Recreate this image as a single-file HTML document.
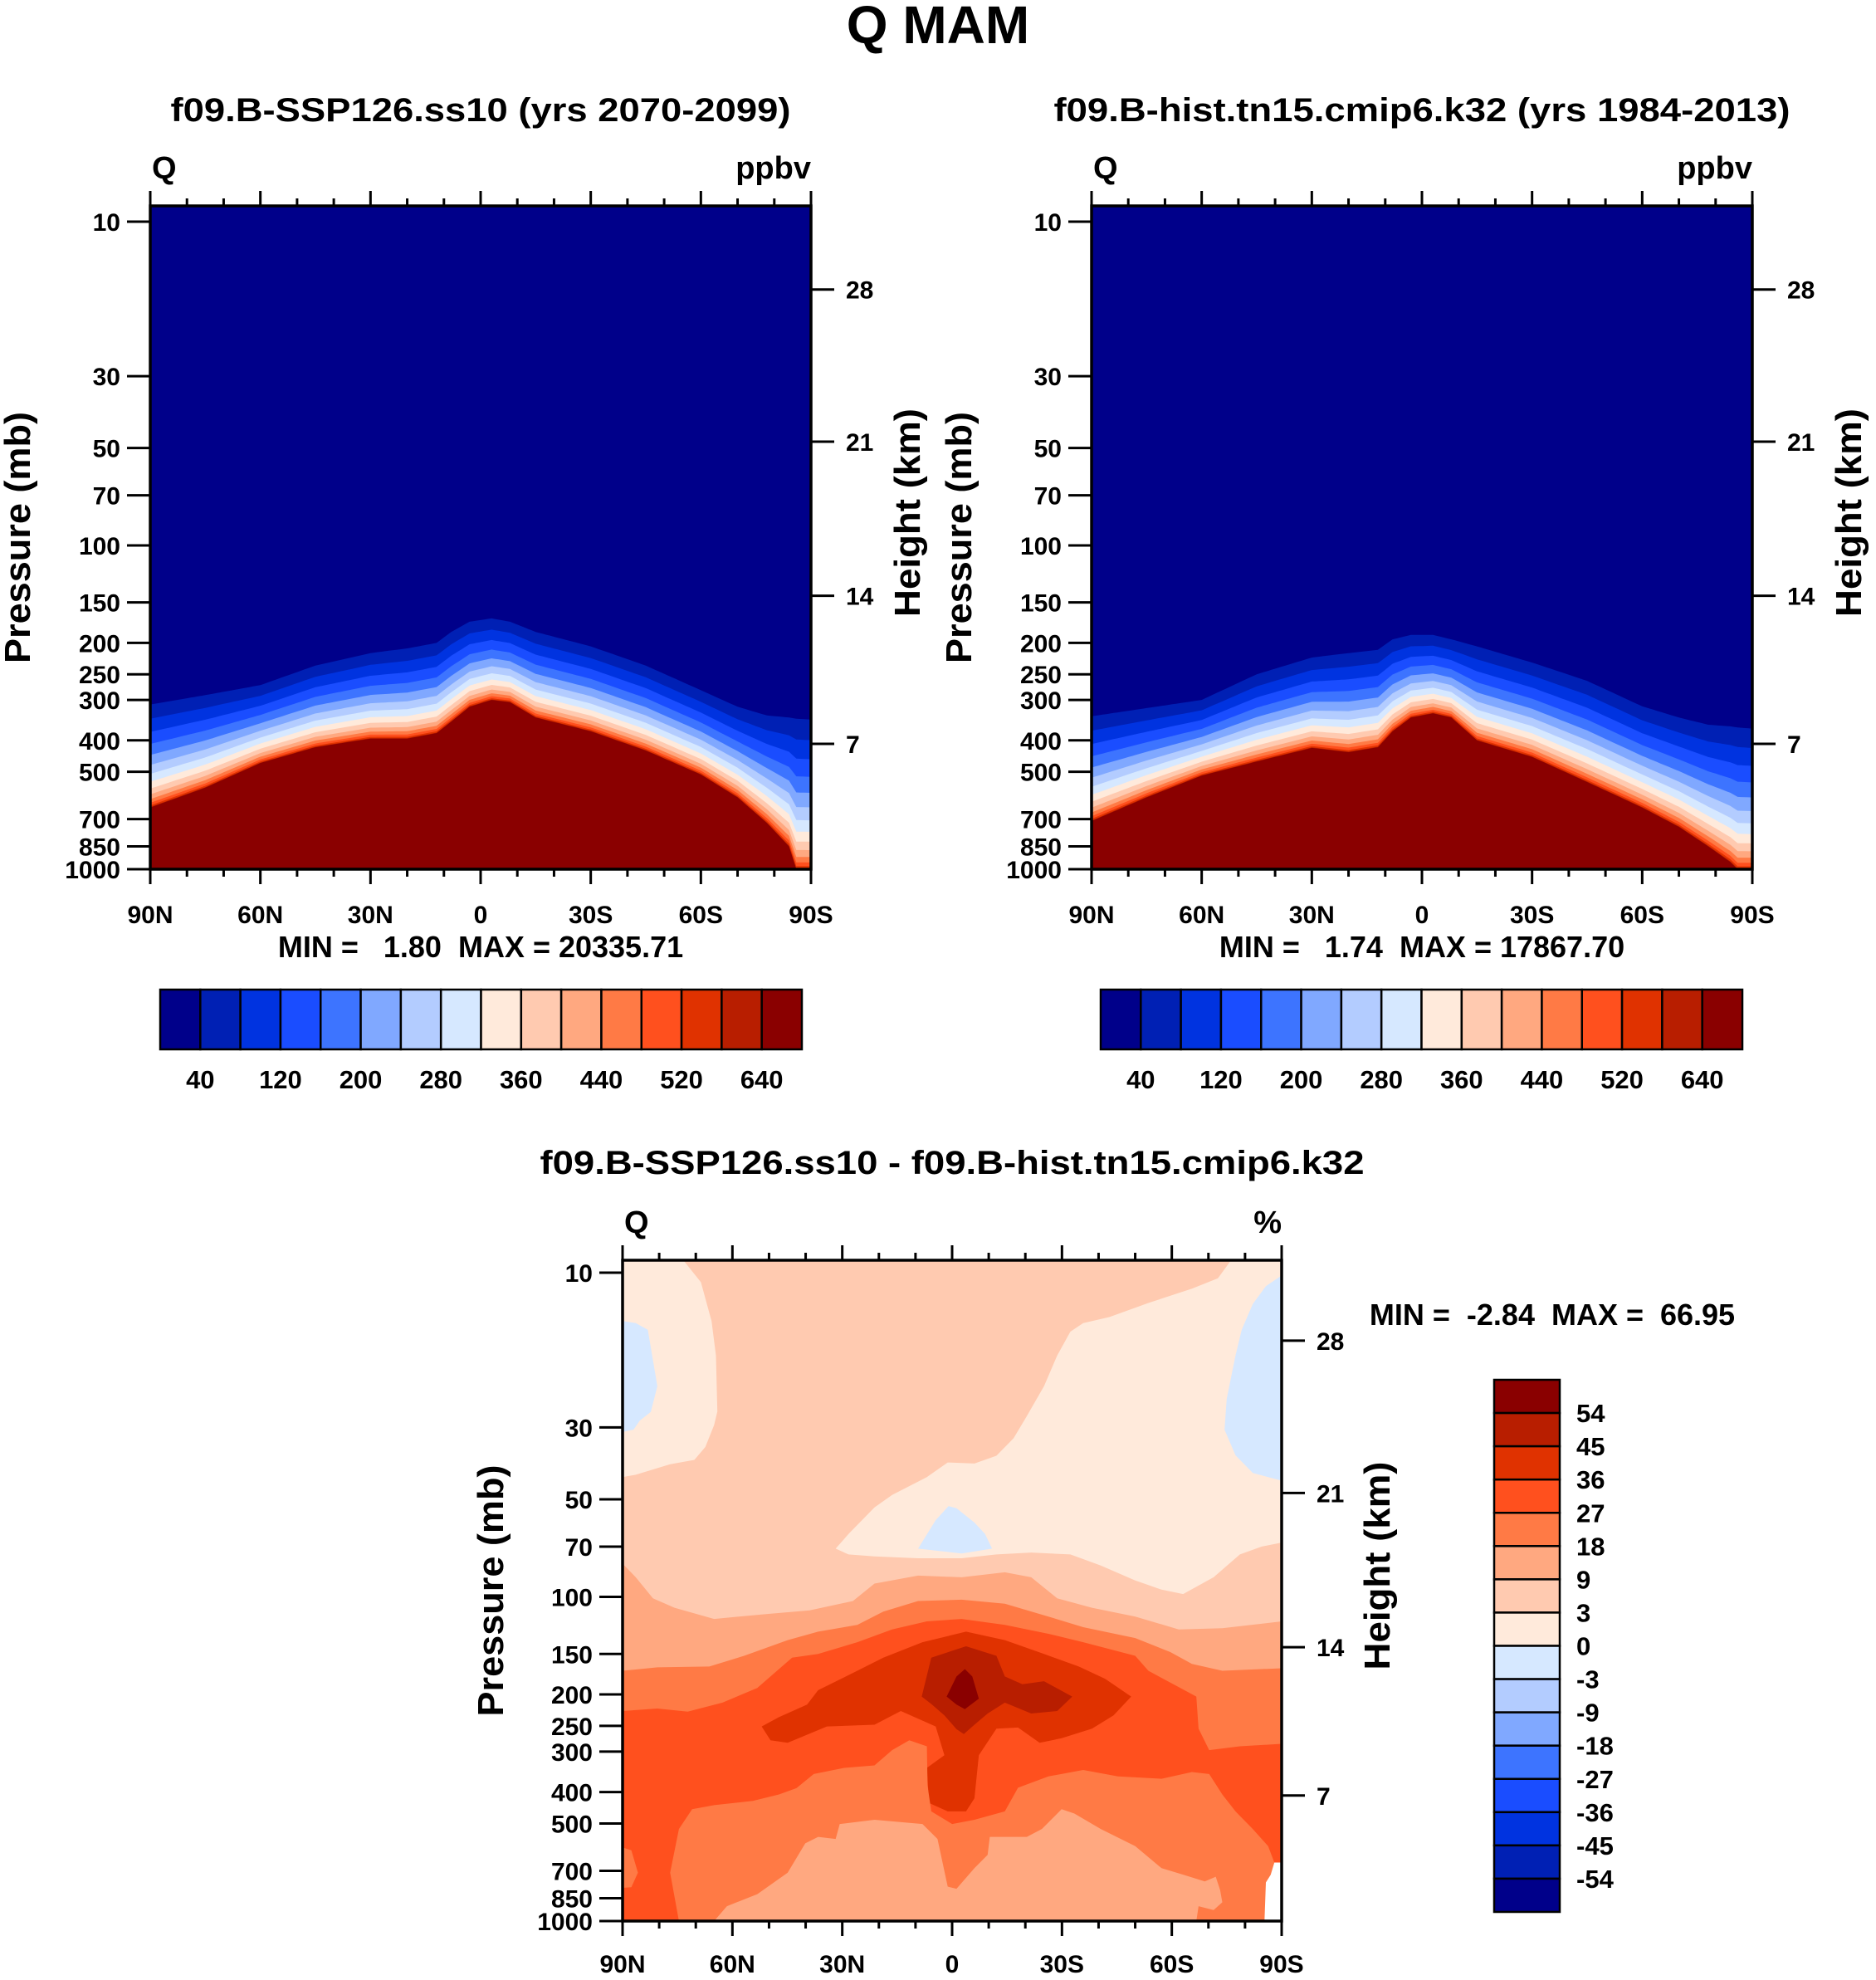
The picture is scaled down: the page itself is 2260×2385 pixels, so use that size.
<!DOCTYPE html>
<html><head><meta charset="utf-8"><style>
html,body{margin:0;padding:0;background:#fff;}
svg{display:block;font-family:"Liberation Sans",Arial,sans-serif;font-weight:bold;}
.pre{white-space:pre;}
</style></head><body>
<svg id="root" xmlns="http://www.w3.org/2000/svg" width="2260" height="2385" viewBox="0 0 2260 2385">
<rect width="2260" height="2385" fill="#fff"/>
<text x="1130" y="52" font-size="64" text-anchor="middle">Q MAM</text>
<text x="579" y="146" font-size="40" text-anchor="middle" textLength="747" lengthAdjust="spacingAndGlyphs">f09.B-SSP126.ss10 (yrs 2070-2099)</text>
<text x="1713" y="146" font-size="40" text-anchor="middle" textLength="887" lengthAdjust="spacingAndGlyphs">f09.B-hist.tn15.cmip6.k32 (yrs 1984-2013)</text>
<text x="1147" y="1414" font-size="40" text-anchor="middle" textLength="993" lengthAdjust="spacingAndGlyphs">f09.B-SSP126.ss10 - f09.B-hist.tn15.cmip6.k32</text>
<g id="g"></g>
</svg>
<script>
// ---------- data ----------
const paletteColors = ["#00008a","#0020b4","#0033e0","#1a4dff","#3d74ff","#80a8ff","#b3ccff","#d6e8ff","#ffeadb","#ffcab0","#ffa880","#ff7a45","#ff501e","#e03200","#b81e00","#8a0000"];
const latTicks = [90,60,30,0,-30,-60,-90];
const latTickLabels = ["90N","60N","30N","0","30S","60S","90S"];
const pressureTicks = [10,30,50,70,100,150,200,250,300,400,500,700,850,1000];
const heightTicks = ["28","21","14","7"];
const heightTickPressure = [16.2,47.8,143,410];
const topCbarLabels = ["40","120","200","280","360","440","520","640"];
const diffCbarLabels = ["54","45","36","27","18","9","3","0","-3","-9","-18","-27","-36","-45","-54"];

const profileLats = [90,75,60,45,30,20,12,8,3,-3,-8,-15,-30,-45,-60,-70,-78,-84,-86,-90];
const futureRedTop = [645,560,470,420,395,395,380,350,315,300,305,340,375,430,510,600,720,850,1000,1000];
const futureBlueEdge = [310,290,270,235,215,208,200,185,172,168,172,185,205,235,280,315,335,340,343,345];
const histRedTop = [710,600,514,465,422,435,420,375,340,330,340,400,450,538,645,740,850,950,1000,1000];
const histBlueEdge = [337,318,300,250,222,215,210,195,189,189,195,205,230,262,314,340,358,362,365,368];

const diffCreamLeft = [[90,8.9],[73.4,8.9],[68.6,10.7],[65.7,14.1],[64.5,18],[64.1,26.8],[65,29.5],[67.4,34.5],[70.4,37.8],[77,39],[86.4,42],[90,42.7]];
const diffCreamRight = [[-76.2,8.9],[-90,8.9],[-90,68],[-84.5,70],[-78.6,74],[-71.4,87],[-63.1,98],[-57.2,95],[-50,89],[-40.6,80],[-32.3,74],[-21.6,73],[-12.1,74],[-2.6,76],[9.3,76],[21.2,75],[28.3,74],[31.8,71],[28.3,64],[21.2,53],[16.4,48.5],[6.9,42.7],[1.2,38.5],[-6.1,38.8],[-12.1,36.7],[-16.8,32.4],[-20.4,27.7],[-25.1,22.4],[-28.7,18],[-32.3,15.2],[-35.8,14.3],[-43,13.7],[-53.6,12.4],[-65.5,11.2],[-72.6,10.4]];
const diffNegLeft = [[90,14.1],[86.4,14.3],[83.1,15],[81.7,18.6],[80.5,22.4],[82.3,26.9],[85.3,28.6],[87,30.5],[90,31]];
const diffNegRight = [[-90,10.2],[-85.7,11],[-82.1,12.5],[-79.1,15],[-77.4,18],[-75,24.5],[-74.4,30.5],[-77.4,36.6],[-82.1,41.5],[-90,43.8]];
const diffNegCenter = [[9.3,71],[4.5,58],[1,52.5],[-1.2,53.3],[-6.1,59],[-9,64],[-10.9,71],[-2.6,73.5]];
const diff9Top = [[90,79],[86.4,87],[81.7,101],[75.8,108],[65,117],[50.8,113],[38.9,110],[27.1,103],[21.2,91],[9.3,86],[-2.6,87],[-14.4,84],[-21.6,87],[-28.7,101],[-38.2,108],[-50,115],[-61.9,126],[-73.8,125],[-90,119],[-90,1000],[90,1000]];
const diff18Top = [[90,169],[80.5,165],[66.3,164],[56.8,152],[44.9,136],[36.6,128],[25.9,122],[18.8,111],[9.3,103],[-2.6,102],[-14.4,105],[-26.3,115],[-35.8,124],[-50,134],[-59.6,148],[-65.5,161],[-73.8,169],[-90,166],[-90,1000],[90,1000]];
const diff27Top = [[90,225],[80.5,221],[72.2,226],[62.7,212],[53.2,191],[43.7,154],[36.6,150],[25.9,138],[16.4,126],[6.9,119],[-2.6,117],[-14.4,122],[-26.3,130],[-35.8,138],[-50,152],[-53.6,169],[-66.7,203],[-67.3,255],[-70.2,297],[-78.6,289],[-90,284],[-90,1000],[90,1000]];
const diff36 = [[52,251],[49.6,277],[44.9,282],[34.2,251],[21.2,248],[14,225],[4.5,251],[2.1,308],[6.9,337],[6.3,432],[1.2,459],[-3.8,459],[-6.1,418],[-7.3,308],[-12.1,255],[-18,253],[-23.9,282],[-29.9,273],[-38.2,255],[-44.1,232],[-48.9,203],[-41.8,179],[-34.6,164],[-25.1,150],[-14.4,136],[-3.8,128],[8.1,138],[18.8,154],[25.9,169],[36.6,194],[39.6,215],[47.3,235]];
const diff45 = [[8.3,203],[5.7,154],[-3.8,142],[-12.1,152],[-14.4,176],[-19.2,186],[-25.1,182],[-32.8,203],[-28.7,225],[-21.6,229],[-14.4,212],[-9.7,229],[-6.1,248],[-3.2,265],[-1.2,256],[2.1,232],[5.7,214]];
const diff54 = [[1.5,203],[-1.2,176],[-3.5,167],[-5.5,176],[-7.3,206],[-3.5,222],[-1.2,215]];
const diffLow18 = [[74.6,1000],[77,709],[74.6,520],[71,452],[65,439],[54.4,426],[47.3,407],[42.5,389],[37.8,352],[29.5,337],[21.2,331],[16.4,297],[11.7,277],[6.9,289],[6.7,382],[5.7,459],[0,502],[-6.1,487],[-14.4,459],[-18,388],[-26.3,358],[-35.8,342],[-45.3,358],[-57.2,364],[-65.5,347],[-70.2,352],[-73.8,407],[-77.4,459],[-82.1,520],[-86.3,587],[-88,660],[-85.7,1000]];
const diffLow18Blob = [[90,593],[87.6,605],[85.8,709],[87.6,786],[90,790]];
const diffLow9 = [[65,1000],[61.5,900],[53.2,826],[44.9,709],[40.1,576],[36.6,550],[31.8,558],[30.7,502],[21.2,487],[8.1,502],[4,558],[1.2,783],[-1.2,795],[-6.1,687],[-9.7,625],[-10.3,550],[-20.4,550],[-24.5,520],[-29.9,452],[-33.4,466],[-40.6,520],[-50,587],[-57.2,687],[-63.1,719],[-69,755],[-72,730],[-73.2,803],[-73.8,875],[-71.4,925],[-67.3,900],[-66.7,1000]];
const diffMissing = [[-90,660],[-88,660],[-87,720],[-85.7,760],[-85.3,1000],[-90,1000]];

// ---------- drawing ----------
const NS="http://www.w3.org/2000/svg";
const G=document.getElementById('g');
function mk(tag,attrs,parent){const e=document.createElementNS(NS,tag);for(const k in attrs)e.setAttribute(k,attrs[k]);(parent||G).appendChild(e);return e;}
function lg(p){return Math.log10(p);}
function makeAxes(x0,x1,y0,y1,p10y,dec){
  return {x:lat=>x0+(90-lat)/180*(x1-x0), y:p=>p10y+(lg(p)-1)*dec, x0,x1,y0,y1};
}
function polyPts(ax,pts){return pts.map(q=>ax.x(q[0]).toFixed(1)+","+Math.min(ax.y1,Math.max(ax.y0,ax.y(q[1]))).toFixed(1)).join(" ");}

function drawProfilePanel(ax,redTop,blueEdge,parent){
  mk('rect',{x:ax.x0,y:ax.y0,width:ax.x1-ax.x0,height:ax.y1-ax.y0,fill:paletteColors[0]},parent);
  for(let k=1;k<16;k++){
    const f=1-Math.pow(1-(k-1)/14,2);
    const pts=[];
    for(let i=0;i<=180;i++){
      const lat=90-i;
      let j=0;while(j<profileLats.length-2&&profileLats[j+1]>lat)j++;
      const t=(profileLats[j]-lat)/(profileLats[j]-profileLats[j+1]);
      const lb=lg(blueEdge[j])+(lg(blueEdge[j+1])-lg(blueEdge[j]))*t;
      const lr=lg(redTop[j])+(lg(redTop[j+1])-lg(redTop[j]))*t;
      pts.push([lat,Math.pow(10,lb+f*(lr-lb))]);
    }
    pts.push([-90,1000]);pts.push([90,1000]);
    const el=mk('polygon',{points:polyPts(ax,pts),fill:paletteColors[k]},parent);
    
    
  }
}

function drawFrame(ax,parent,opts){
  const fs=30;
  mk('rect',{x:ax.x0,y:ax.y0,width:ax.x1-ax.x0,height:ax.y1-ax.y0,fill:'none',stroke:'#000','stroke-width':3.5},parent);
  for(let lat=90;lat>=-90;lat-=10){
    const major=lat%30===0, L=major?18:9, x=ax.x(lat);
    mk('line',{x1:x,x2:x,y1:ax.y1,y2:ax.y1+L,stroke:'#000','stroke-width':3},parent);
    mk('line',{x1:x,x2:x,y1:ax.y0,y2:ax.y0-L,stroke:'#000','stroke-width':3},parent);
  }
  latTicks.forEach((lat,i)=>{
    const t=mk('text',{x:ax.x(lat),y:opts.latLabelY,'font-size':fs,'text-anchor':'middle'},parent);
    t.textContent=latTickLabels[i];
    
    
  });
  pressureTicks.forEach(p=>{
    const y=ax.y(p);
    mk('line',{x1:ax.x0-28,x2:ax.x0,y1:y,y2:y,stroke:'#000','stroke-width':3},parent);
    const t=mk('text',{x:ax.x0-36,y:y+11,'font-size':fs,'text-anchor':'end'},parent);
    t.textContent=String(p);
    
    
  });
  heightTicks.forEach((h,i)=>{
    const y=ax.y(heightTickPressure[i]);
    mk('line',{x1:ax.x1,x2:ax.x1+28,y1:y,y2:y,stroke:'#000','stroke-width':3},parent);
    const t=mk('text',{x:ax.x1+42,y:y+11,'font-size':fs,'text-anchor':'start'},parent);
    t.textContent=h;
    
    
  });
  const yc=(ax.y0+ax.y1)/2;
  const pt=mk('text',{x:0,y:0,'font-size':44,'text-anchor':'middle',transform:`translate(${opts.pTitleX},${yc}) rotate(-90)`,textLength:303,lengthAdjust:'spacingAndGlyphs'},parent);
  pt.textContent='Pressure (mb)';
  
  
  const ht=mk('text',{x:0,y:0,'font-size':44,'text-anchor':'middle',transform:`translate(${opts.hTitleX},${yc-30}) rotate(-90)`,textLength:251,lengthAdjust:'spacingAndGlyphs'},parent);
  ht.textContent='Height (km)';
  
  
  const q=mk('text',{x:ax.x0+2,y:ax.y0-33,'font-size':38},parent);q.textContent='Q';
  
  
  const u=mk('text',{x:ax.x1,y:ax.y0-33,'font-size':38,'text-anchor':'end'},parent);u.textContent=opts.units;
  
  
}

function hColorbar(x0,x1,y0,y1,parent){
  const w=(x1-x0)/16;
  paletteColors.forEach((c,i)=>{
    const r=mk('rect',{x:x0+i*w,y:y0,width:w,height:y1-y0,fill:c,stroke:'#000','stroke-width':2.5},parent);
    
    
  });
  topCbarLabels.forEach((l,i)=>{
    const t=mk('text',{x:x0+w*(1+2*i),y:1311,'font-size':31,'text-anchor':'middle'},parent);
    t.textContent=l;
    
    
  });
}

const gl=mk('g',{});


const axL=makeAxes(181,977,248,1047,267,390);
drawProfilePanel(axL,futureRedTop,futureBlueEdge,gl);
drawFrame(axL,gl,{latLabelY:1112,pTitleX:36,hTitleX:1108,units:'ppbv'});
const mL=mk('text',{x:579,y:1153,'font-size':36,'text-anchor':'middle','class':'pre'},gl);
mL.textContent='MIN =   1.80  MAX = 20335.71';


hColorbar(193,966,1192,1264,gl);

const gr=mk('g',{});


const axR=makeAxes(1315,2111,248,1047,267,390);
drawProfilePanel(axR,histRedTop,histBlueEdge,gr);
drawFrame(axR,gr,{latLabelY:1112,pTitleX:1170,hTitleX:2242,units:'ppbv'});
const mR=mk('text',{x:1713,y:1153,'font-size':36,'text-anchor':'middle','class':'pre'},gr);
mR.textContent='MIN =   1.74  MAX = 17867.70';


hColorbar(1326,2099,1192,1264,gr);

const gd=mk('g',{});


const axD=makeAxes(750,1544,1518,2314,1533,390.5);
mk('rect',{x:axD.x0,y:axD.y0,width:axD.x1-axD.x0,height:axD.y1-axD.y0,fill:paletteColors[9]},gd);
const diffLayers=[[diffCreamLeft,8],[diffCreamRight,8],[diffNegLeft,7],[diffNegRight,7],[diffNegCenter,7],[diff9Top,10],[diff18Top,11],[diff27Top,12],[diff36,13],[diff45,14],[diff54,15],[diffLow18,11],[diffLow18Blob,11],[diffLow9,10]];
diffLayers.forEach(L=>{
  const el=mk('polygon',{points:polyPts(axD,L[0]),fill:paletteColors[L[1]]},gd);
  
  
});
const miss=mk('polygon',{points:polyPts(axD,diffMissing),fill:'#fff'},gd);


drawFrame(axD,gd,{latLabelY:2376,pTitleX:606,hTitleX:1674,units:'%'});
const mD=mk('text',{x:1870,y:1596,'font-size':36,'text-anchor':'middle','class':'pre'},gd);
mD.textContent='MIN =  -2.84  MAX =  66.95';


const vb0=1662,vb1=2303,vh=(vb1-vb0)/16;
for(let i=0;i<16;i++){
  const r=mk('rect',{x:1800,y:vb0+i*vh,width:79,height:vh,fill:paletteColors[15-i],stroke:'#000','stroke-width':2.5},gd);
  
  
}
diffCbarLabels.forEach((l,i)=>{
  const t=mk('text',{x:1899,y:vb0+vh*(i+1)+11,'font-size':31},gd);
  t.textContent=l;
  
  
});
</script>
</body></html>
